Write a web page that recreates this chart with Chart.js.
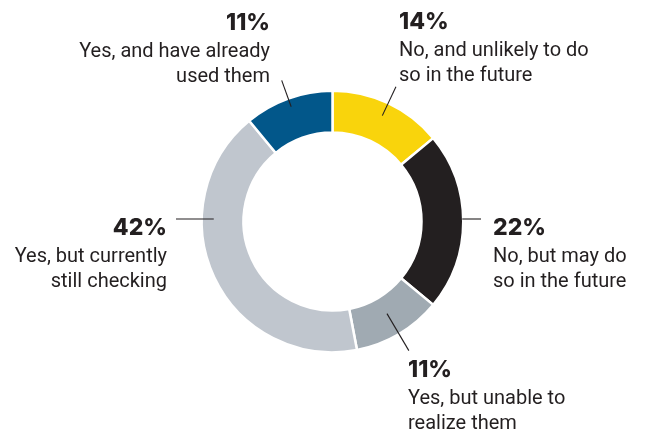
<!DOCTYPE html>
<html>
<head>
<meta charset="utf-8">
<style>
  html, body { margin: 0; padding: 0; background: #ffffff; }
  #wrap { position: relative; width: 646px; height: 431px; }
</style>
<script src="https://cdn.jsdelivr.net/npm/chart.js@4/dist/chart.umd.min.js"></script>
</head>
<body>
<div id="wrap"><canvas id="chart" width="646" height="431"></canvas></div>
<script>
// Survey answers, clockwise from 12 o'clock
const categories = [
  ['No, and unlikely to do', 'so in the future'],
  ['No, but may do', 'so in the future'],
  ['Yes, but unable to', 'realize them'],
  ['Yes, but currently', 'still checking'],
  ['Yes, and have already', 'used them']
];
const shares = [14, 22, 11, 42, 11];
const sliceColors = ['#F9D40C', '#231F20', '#A0AAB2', '#C0C6CE', '#02578A'];

// Where each callout sits and how its leader line runs
const callouts = [
  { x: 399, y: 29,  align: 'left',  leader: { type: 'radial', r1: 117, r2: 149 } },
  { x: 493, y: 235, align: 'left',  leader: { type: 'right' } },
  { x: 408, y: 377, align: 'left',  leader: { type: 'radial', r1: 107, r2: 150 } },
  { x: 167, y: 235, align: 'right', leader: { type: 'left' } },
  { x: 270, y: 30,  align: 'right', leader: { type: 'radial', r1: 122, r2: 150 } }
];

const INK = '#231F20';

const calloutPlugin = {
  id: 'callouts',
  afterDatasetsDraw(chart) {
    const ctx = chart.ctx;
    const meta = chart.getDatasetMeta(0);
    const values = chart.data.datasets[0].data;
    ctx.save();
    meta.data.forEach((arc, i) => {
      const c = callouts[i];
      const { x: cx, y: cy, startAngle, endAngle, outerRadius } = arc.getProps(['x', 'y', 'startAngle', 'endAngle', 'outerRadius'], true);
      const mid = (startAngle + endAngle) / 2;

      // leader line
      ctx.strokeStyle = INK;
      ctx.lineWidth = 1.1;
      ctx.beginPath();
      if (c.leader.type === 'radial') {
        ctx.moveTo(cx + Math.cos(mid) * c.leader.r1, cy + Math.sin(mid) * c.leader.r1);
        ctx.lineTo(cx + Math.cos(mid) * c.leader.r2, cy + Math.sin(mid) * c.leader.r2);
      } else if (c.leader.type === 'right') {
        const ly = c.y - 16;
        ctx.moveTo(cx + outerRadius - 1, ly);
        ctx.lineTo(c.x - 12, ly);
      } else {
        const ly = c.y - 16;
        ctx.moveTo(cx - outerRadius + 12, ly);
        ctx.lineTo(c.x + 9, ly);
      }
      ctx.stroke();

      // value and category text
      ctx.fillStyle = INK;
      ctx.textAlign = c.align;
      ctx.textBaseline = 'alphabetic';
      ctx.font = '800 23px Inter, "Open Sans", sans-serif';
      ctx.fillText(values[i] + '%', c.x, c.y);
      ctx.font = '400 20px Roboto, "Noto Sans", sans-serif';
      categories[i].forEach((line, k) => {
        ctx.fillText(line, c.x, c.y + 27 + k * 24.5);
      });
    });
    ctx.restore();
  }
};

new Chart(document.getElementById('chart'), {
  type: 'doughnut',
  data: {
    labels: categories.map(l => l.join(' ')),
    datasets: [{
      data: shares,
      backgroundColor: sliceColors,
      borderColor: '#ffffff',
      borderWidth: 2.5,
      hoverOffset: 0
    }]
  },
  options: {
    responsive: false,
    animation: false,
    cutout: 89,
    layout: { padding: { top: 89.5, bottom: 77.5, left: 190, right: 171 } },
    plugins: {
      legend: { display: false },
      tooltip: { enabled: false }
    },
    events: []
  },
  plugins: [calloutPlugin]
});
</script>
</body>
</html>
